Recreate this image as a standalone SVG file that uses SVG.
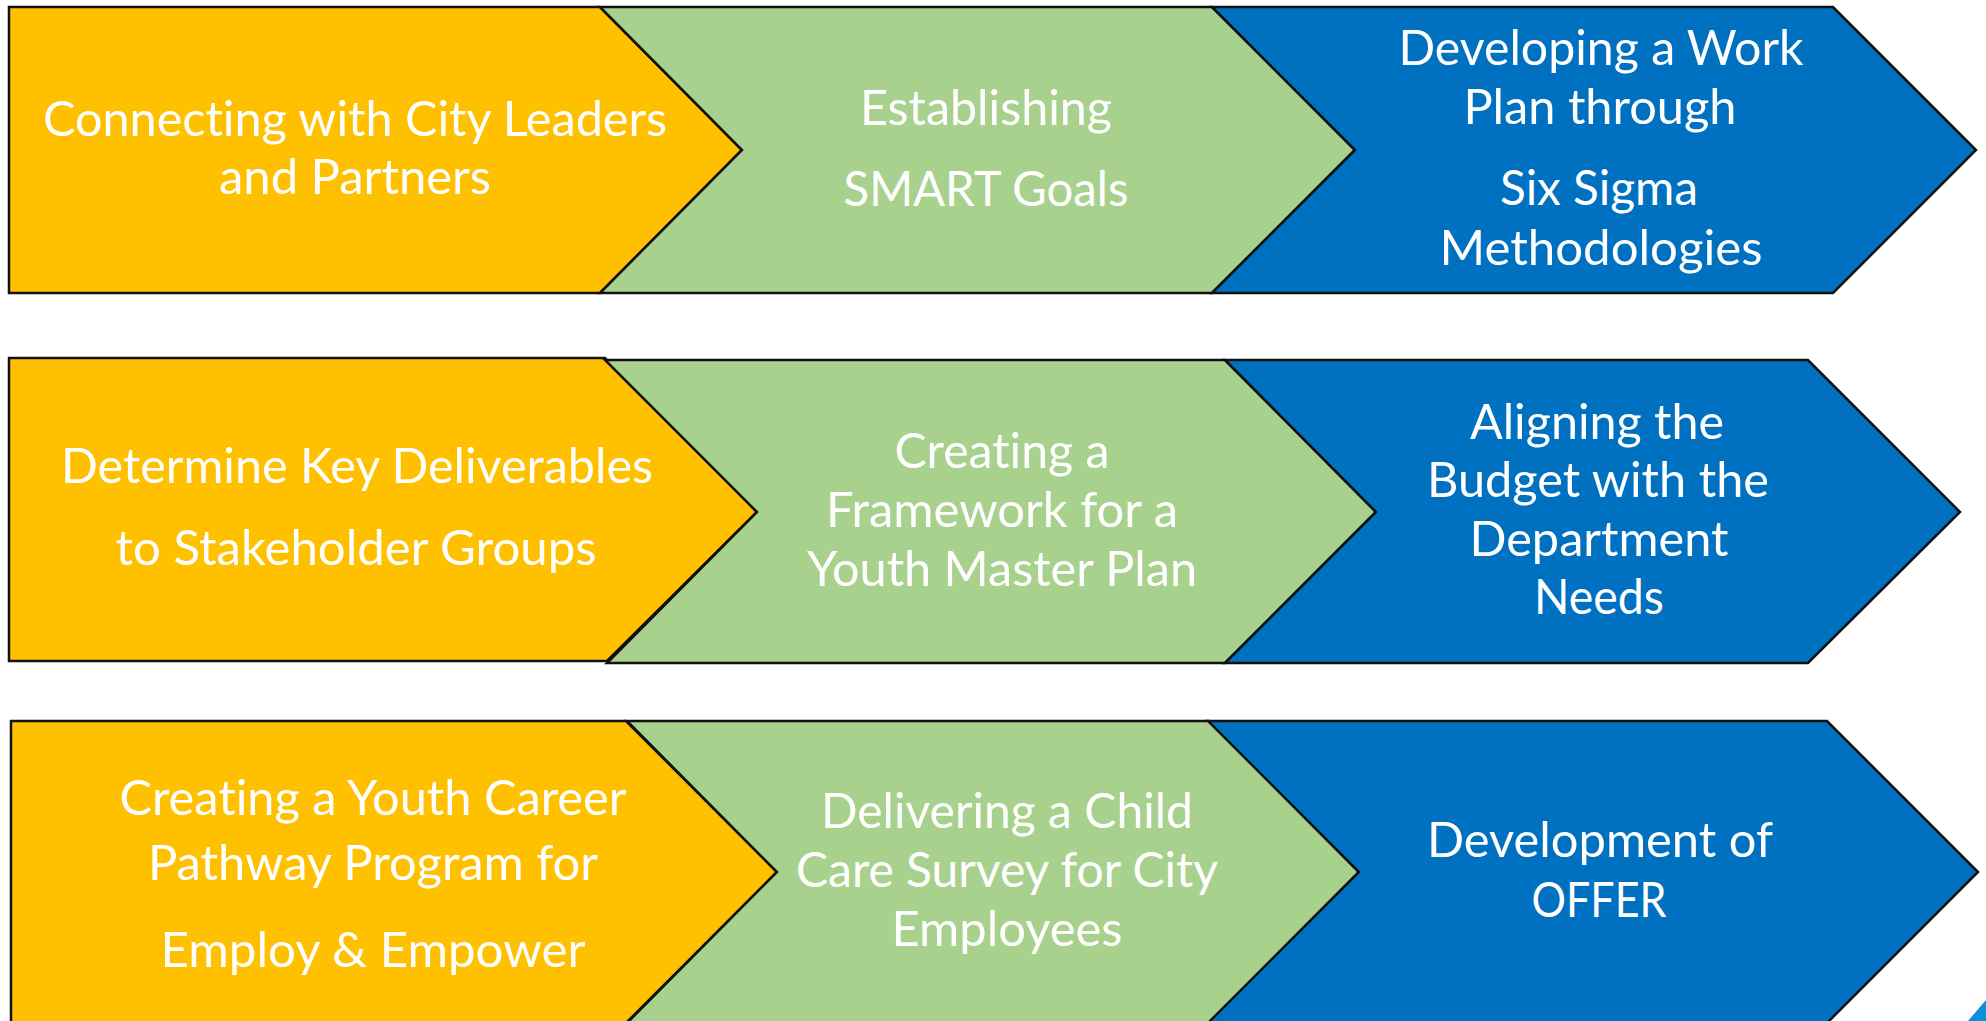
<svg xmlns="http://www.w3.org/2000/svg" width="1986" height="1021" viewBox="0 0 1986 1021">
<style>
.shape{stroke:#111;stroke-width:2.5;stroke-linejoin:miter}
.y{fill:#FFC000}
.g{fill:#A9D18E}
.b{fill:#0070C0}
.t{font-family:Lato,"Open Sans","Liberation Sans",sans-serif;font-size:48px;fill:#fff;text-anchor:middle;font-variant-ligatures:none;font-feature-settings:"liga" 0}
</style>
<rect x="0" y="0" width="1986" height="1021" fill="#fff"/>
<g id="row1">
<g id="n-connecting">
<polygon class="shape y" points="9,7 600,7 742,150 600,293 9,293"/>
<text class="t"><tspan x="355" y="136" textLength="624" lengthAdjust="spacingAndGlyphs">Connecting with City Leaders</tspan><tspan x="355" y="194" textLength="272" lengthAdjust="spacingAndGlyphs">and Partners</tspan></text>
</g>
<g id="n-smart">
<polygon class="shape g" points="600,7 1212,7 1355,150 1212,293 600,293 742,150"/>
<text class="t"><tspan x="986" y="125" textLength="252" lengthAdjust="spacingAndGlyphs">Establishing</tspan><tspan x="986" y="206" textLength="285" lengthAdjust="spacingAndGlyphs">SMART Goals</tspan></text>
</g>
<g id="n-workplan">
<polygon class="shape b" points="1212,7 1833,7 1976,150 1833,293 1212,293 1355,150"/>
<text class="t"><tspan x="1601" y="65" textLength="405" lengthAdjust="spacingAndGlyphs">Developing a Work</tspan><tspan x="1600" y="124" textLength="273" lengthAdjust="spacingAndGlyphs">Plan through</tspan><tspan x="1599" y="205" textLength="198" lengthAdjust="spacingAndGlyphs">Six Sigma</tspan><tspan x="1601" y="265" textLength="323" lengthAdjust="spacingAndGlyphs">Methodologies</tspan></text>
</g>
</g>
<g id="row2">
<g id="n-deliverables">
<polygon class="shape y" points="9,358 605,358 757,512 607,661 9,661"/>
<text class="t"><tspan x="357" y="483" textLength="592" lengthAdjust="spacingAndGlyphs">Determine Key Deliverables</tspan><tspan x="356" y="565" textLength="481" lengthAdjust="spacingAndGlyphs">to Stakeholder Groups</tspan></text>
</g>
<g id="n-framework">
<polygon class="shape g" points="605,360 1225,360 1376,512 1225,663 607,663 757,512"/>
<text class="t"><tspan x="1002" y="468" textLength="215" lengthAdjust="spacingAndGlyphs">Creating a</tspan><tspan x="1002" y="527" textLength="352" lengthAdjust="spacingAndGlyphs">Framework for a</tspan><tspan x="1002" y="586" textLength="390" lengthAdjust="spacingAndGlyphs">Youth Master Plan</tspan></text>
</g>
<g id="n-budget">
<polygon class="shape b" points="1225,360 1808,360 1960,512 1808,663 1225,663 1376,512"/>
<text class="t"><tspan x="1597" y="439" textLength="254" lengthAdjust="spacingAndGlyphs">Aligning the</tspan><tspan x="1598" y="497" textLength="342" lengthAdjust="spacingAndGlyphs">Budget with the</tspan><tspan x="1599" y="556" textLength="259" lengthAdjust="spacingAndGlyphs">Department</tspan><tspan x="1599" y="614" textLength="130" lengthAdjust="spacingAndGlyphs">Needs</tspan></text>
</g>
</g>
<g id="row3">
<g id="n-career">
<polygon class="shape y" points="11,721 626,721 777,872 626,1023 11,1023"/>
<text class="t"><tspan x="373" y="815" textLength="507" lengthAdjust="spacingAndGlyphs">Creating a Youth Career</tspan><tspan x="373" y="880" textLength="450" lengthAdjust="spacingAndGlyphs">Pathway Program for</tspan><tspan x="373" y="967" textLength="425" lengthAdjust="spacingAndGlyphs">Employ &amp; Empower</tspan></text>
</g>
<g id="n-childcare">
<polygon class="shape g" points="627,721 1209,721 1359,872 1209,1023 627,1023 777,872"/>
<text class="t"><tspan x="1007" y="828" textLength="372" lengthAdjust="spacingAndGlyphs">Delivering a Child</tspan><tspan x="1007" y="887" textLength="422" lengthAdjust="spacingAndGlyphs">Care Survey for City</tspan><tspan x="1007" y="946" textLength="231" lengthAdjust="spacingAndGlyphs">Employees</tspan></text>
</g>
<g id="n-offer">
<polygon class="shape b" points="1208,721 1827,721 1978,872 1827,1023 1208,1023 1359,872"/>
<text class="t"><tspan x="1600" y="857" textLength="346" lengthAdjust="spacingAndGlyphs">Development of</tspan><tspan x="1599" y="917" textLength="135" lengthAdjust="spacingAndGlyphs">OFFER</tspan></text>
</g>
</g>
<g id="connectors"></g>
<polygon points="1968,1021 1986,1000 1986,1021" fill="#0A8FD8"/>
</svg>
